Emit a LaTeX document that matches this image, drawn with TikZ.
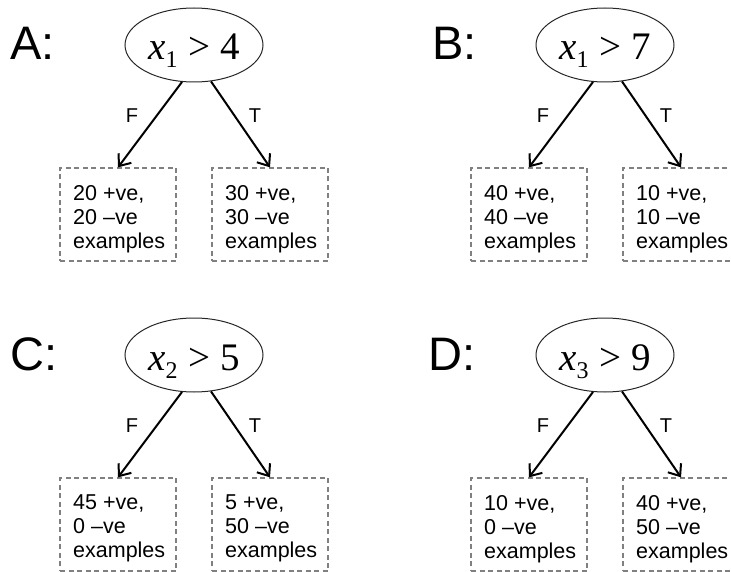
\documentclass[tikz,border=0pt]{standalone}
\usepackage{fontspec}
\setmainfont{Liberation Sans}
\newfontfamily\condfont{Liberation Serif}
\usetikzlibrary{arrows.meta,shapes.geometric}

% One labelled split: #1 prefix, #2/#3 shift, #4 letter, #5 letter x,
% #6 feature index, #7 threshold, #8 false leaf text, #9 true leaf text
\newcommand{\decisionpanel}[9]{%
  \begin{scope}[shift={(#2,#3)}]
    \node[panel] (#1lab) at (#5,60) {#4:};
    \node[cond] (#1cond) at (194,45)
      {\textit{x}\raisebox{-8pt}{\fontsize{24}{24}\selectfont #6}\hspace{11pt}> #7};
    \node[leaf] (#1no) at (118,214.5) {};
    \node[leaf] (#1yes) at (270,214.5) {};
    \node[leaftext] (#1notext) at (73,185) {#8};
    \node[leaftext] (#1yestext) at (225,185) {#9};
    \draw[branch] (#1cond.252) -- (#1no.north);
    \draw[branch] (#1cond.295) -- (#1yes.north);
    \node[tag] (#1f) at (132,116) {F};
    \node[tag] (#1t) at (255,116) {T};
  \end{scope}}

\begin{document}
\begin{tikzpicture}[x=1pt,y=-1pt,
  cond/.style={ellipse,draw=black!85,line width=1pt,minimum width=138pt,
    minimum height=74pt,inner sep=0pt,text height=30pt,text depth=0pt,
    font=\condfont\fontsize{39}{39}\selectfont},
  leaf/.style={draw=black!50,dash pattern=on 5pt off 3.5pt,line width=1.3pt,
    minimum width=116pt,minimum height=93pt,inner sep=0pt},
  leaftext/.style={anchor=north west,align=left,inner sep=0pt,
    font=\fontsize{21.5}{24}\selectfont},
  panel/.style={anchor=base west,inner sep=0pt,font=\fontsize{47}{47}\selectfont},
  branch/.style={line width=2pt,-{Straight Barb[length=10pt,width=16pt,line width=2pt]}},
  tag/.style={inner sep=0pt,font=\fontsize{20}{20}\selectfont}]
  \useasboundingbox (0,0) rectangle (731,572);
  \clip (0,0) rectangle (731,572);

  \decisionpanel{a}{0}{0}{A}{10}{1}{4}{20 +ve,\\20 –ve\\examples}{30 +ve,\\30 –ve\\examples}
  \decisionpanel{b}{411}{0}{B}{21}{1}{7}{40 +ve,\\40 –ve\\examples}{10 +ve,\\10 –ve\\examples}
  \decisionpanel{c}{0}{310}{C}{10}{2}{5}{45 +ve,\\0 –ve\\examples}{5 +ve,\\50 –ve\\examples}
  \decisionpanel{d}{411}{310}{D}{17}{3}{9}{10 +ve,\\0 –ve\\examples}{40 +ve,\\50 –ve\\examples}
\end{tikzpicture}
\end{document}
